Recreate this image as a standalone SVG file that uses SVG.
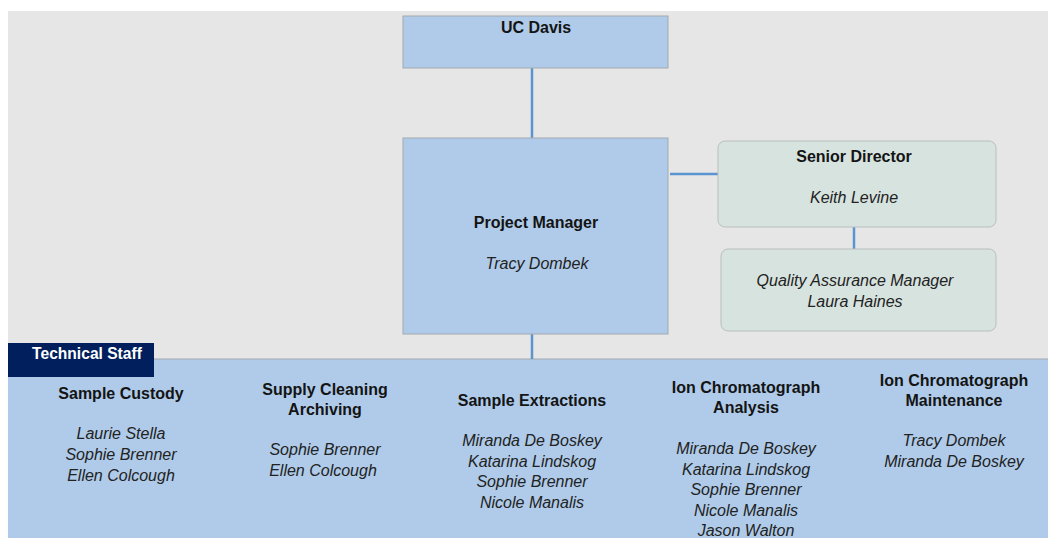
<svg xmlns="http://www.w3.org/2000/svg" width="1048" height="538" viewBox="0 0 1048 538">
<style>
.b{font-family:"Liberation Sans",Arial,sans-serif;font-weight:bold;font-size:16px;fill:#141414;text-anchor:middle}
.i{font-family:"Liberation Sans",Arial,sans-serif;font-style:italic;font-size:16px;fill:#222;text-anchor:middle}
.blue{fill:#afcbe9;stroke:#a3a9b0;stroke-width:1}
.green{fill:#d7e3df;stroke:#b8bfbd;stroke-width:1}
.conn{stroke:#5b95cf;stroke-width:2.5;fill:none}
</style>
<rect x="0" y="0" width="1048" height="538" fill="#ffffff"/>
<rect x="8" y="11" width="1040" height="527" fill="#e6e6e6"/>
<g id="technical-staff">
<rect x="8" y="359" width="1040" height="179" fill="#afcbe9"/>
<line x1="8" y1="359" x2="1048" y2="359" stroke="#a3a9b0" stroke-width="1"/>
<rect x="8" y="343" width="146" height="34" fill="#001f5c"/>
<text x="87" y="359" class="b" style="fill:#fff;font-size:15.6px">Technical Staff</text>
</g>
<g id="connectors">
<line class="conn" x1="532" y1="68" x2="532" y2="138"/>
<line class="conn" x1="670" y1="174" x2="724" y2="174"/>
<line class="conn" x1="854" y1="227" x2="854" y2="249"/>
<line class="conn" x1="532" y1="334" x2="532" y2="359"/>
</g>
<g id="uc-davis">
<rect class="blue" x="403" y="16" width="265" height="52"/>
<text class="b" x="536" y="33">UC Davis</text>
</g>
<g id="project-manager">
<rect class="blue" x="403" y="138" width="265" height="196"/>
<text class="b" x="536" y="228">Project Manager</text>
<text class="i" x="537" y="269">Tracy Dombek</text>
</g>
<g id="senior-director">
<rect class="green" x="718" y="141" width="278" height="86" rx="7"/>
<text class="b" x="854" y="162">Senior Director</text>
<text class="i" x="854" y="203">Keith Levine</text>
</g>
<g id="qa-manager">
<rect class="green" x="721" y="249" width="275" height="82" rx="7"/>
<text class="i" x="855" y="286">Quality Assurance Manager</text>
<text class="i" x="855" y="307">Laura Haines</text>
</g>
<g id="sample-custody">
<text class="b" x="121" y="399">Sample Custody</text>
<text class="i" x="121" y="439">Laurie Stella</text>
<text class="i" x="121" y="460">Sophie Brenner</text>
<text class="i" x="121" y="481">Ellen Colcough</text>
</g>
<g id="supply-cleaning">
<text class="b" x="325" y="395">Supply Cleaning</text>
<text class="b" x="325" y="415">Archiving</text>
<text class="i" x="325" y="455">Sophie Brenner</text>
<text class="i" x="323" y="476">Ellen Colcough</text>
</g>
<g id="sample-extractions">
<text class="b" x="532" y="406">Sample Extractions</text>
<text class="i" x="532" y="446">Miranda De Boskey</text>
<text class="i" x="532" y="467">Katarina Lindskog</text>
<text class="i" x="532" y="487">Sophie Brenner</text>
<text class="i" x="532" y="508">Nicole Manalis</text>
</g>
<g id="ic-analysis">
<text class="b" x="746" y="393">Ion Chromatograph</text>
<text class="b" x="746" y="413">Analysis</text>
<text class="i" x="746" y="454">Miranda De Boskey</text>
<text class="i" x="746" y="475">Katarina Lindskog</text>
<text class="i" x="746" y="495">Sophie Brenner</text>
<text class="i" x="746" y="516">Nicole Manalis</text>
<text class="i" x="746" y="536">Jason Walton</text>
</g>
<g id="ic-maintenance">
<text class="b" x="954" y="386">Ion Chromatograph</text>
<text class="b" x="954" y="406">Maintenance</text>
<text class="i" x="954" y="446">Tracy Dombek</text>
<text class="i" x="954" y="467">Miranda De Boskey</text>
</g>
</svg>
